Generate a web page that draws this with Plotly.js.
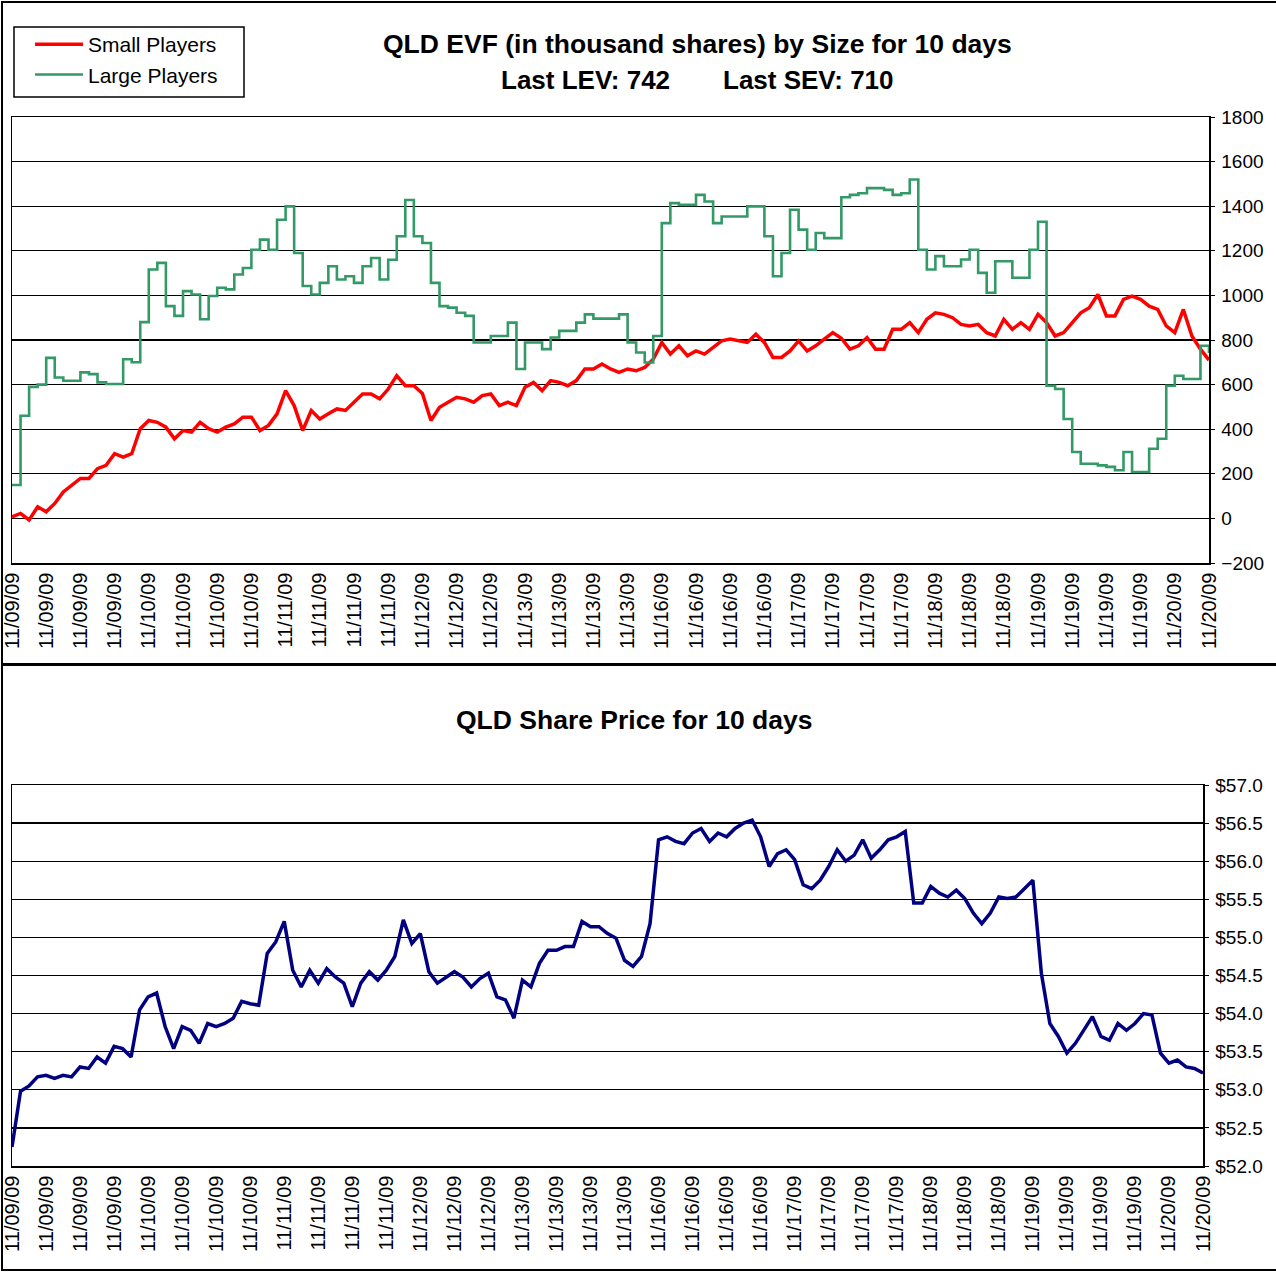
<!DOCTYPE html>
<html>
<head>
<meta charset="utf-8">
<script src="https://cdn.plot.ly/plotly-3.0.1.min.js"></script>
<style>
html,body{margin:0;padding:0;background:#fff;}
#chart{width:1276px;height:1272px;}
</style>
</head>
<body>
<div id="chart"></div>
<script>
// ---- data (sampled every quarter of a tick interval) ----
const tickLabels = [
  "11/09/09","11/09/09","11/09/09","11/09/09",
  "11/10/09","11/10/09","11/10/09","11/10/09",
  "11/11/09","11/11/09","11/11/09","11/11/09",
  "11/12/09","11/12/09","11/12/09",
  "11/13/09","11/13/09","11/13/09","11/13/09",
  "11/16/09","11/16/09","11/16/09","11/16/09",
  "11/17/09","11/17/09","11/17/09","11/17/09",
  "11/18/09","11/18/09","11/18/09",
  "11/19/09","11/19/09","11/19/09","11/19/09",
  "11/20/09","11/20/09"
];

const smallPlayers = [
  7,22,-7,52,30,67,119,149,179,179,223,238,290,275,290,402,
  439,431,409,357,394,387,431,402,387,409,424,454,454,394,417,469,
  573,506,394,484,446,469,491,484,521,558,558,536,580,640,595,595,
  560,439,498,521,543,536,521,551,558,506,521,506,588,610,573,618,
  610,595,618,670,670,692,670,655,670,662,677,714,789,737,774,729,
  751,737,766,796,804,796,789,826,789,722,722,751,796,751,774,804,
  833,808,759,774,811,759,759,848,848,878,833,893,922,915,900,870,
  863,870,833,818,893,848,878,848,915,878,818,833,878,922,945,1004,
  908,908,982,997,982,952,937,863,833,937,818,759,710
];

const largePlayers = [
  150,460,590,600,720,632,617,617,655,647,610,603,603,714,700,880,
  1116,1146,952,908,1019,1004,893,997,1034,1027,1094,1123,1205,1250,1205,1339,
  1399,1190,1042,1004,1056,1131,1071,1086,1056,1131,1168,1071,1160,1265,1428,1265,
  1235,1056,952,945,922,908,789,789,818,818,878,670,789,789,759,811,
  841,841,878,915,896,896,896,915,789,744,699,818,1324,1414,1406,1406,
  1451,1421,1324,1354,1354,1354,1399,1399,1265,1086,1190,1384,1295,1205,1280,1257,
  1257,1440,1451,1458,1481,1481,1473,1451,1458,1520,1205,1116,1176,1131,1131,1161,
  1205,1101,1012,1153,1153,1079,1079,1205,1330,595,580,446,298,245,245,238,
  231,216,298,208,208,312,357,595,640,625,625,774,742
];

const sharePrice = [
  52.25,52.98,53.05,53.17,53.19,53.15,53.19,53.17,53.30,53.28,53.43,53.35,53.57,53.54,53.43,54.05,
  54.22,54.27,53.83,53.54,53.83,53.78,53.61,53.87,53.83,53.87,53.94,54.16,54.13,54.11,54.79,54.94,
  55.21,54.57,54.35,54.57,54.40,54.59,54.48,54.40,54.09,54.40,54.55,54.44,54.57,54.75,55.23,54.92,
  55.05,54.55,54.40,54.48,54.55,54.48,54.35,54.46,54.53,54.22,54.18,53.94,54.44,54.35,54.66,54.83,
  54.83,54.88,54.88,55.21,55.14,55.14,55.05,54.99,54.70,54.62,54.75,55.18,56.28,56.32,56.26,56.23,
  56.37,56.43,56.26,56.37,56.32,56.43,56.50,56.54,56.32,55.93,56.10,56.15,56.02,55.69,55.64,55.75,
  55.93,56.15,56.00,56.08,56.28,56.04,56.15,56.28,56.32,56.39,55.45,55.45,55.67,55.58,55.53,55.62,
  55.51,55.32,55.18,55.32,55.53,55.51,55.53,55.64,55.75,54.53,53.87,53.70,53.48,53.61,53.78,53.96,
  53.70,53.65,53.87,53.78,53.87,54.00,53.98,53.48,53.35,53.39,53.30,53.28,53.22
];

const lastLEV = 742;
const lastSEV = 710;

// ---- layout helpers ----
const W = 1276, H = 1272;
const px = v => v / W;
const py = v => 1 - v / H;
const sampleStep = 0.25;
const idx = arr => arr.map((_, i) => i * sampleStep);
const tickPos = tickLabels.map((_, i) => i);

const FONT = "Arial, 'Liberation Sans', sans-serif";

const traces = [
  {x: idx(smallPlayers), y: smallPlayers, type: 'scatter', mode: 'lines',
   name: 'Small Players', line: {color: '#FF0000', width: 3.5}, xaxis: 'x', yaxis: 'y'},
  {x: idx(largePlayers), y: largePlayers, type: 'scatter', mode: 'lines',
   name: 'Large Players', line: {color: '#339966', width: 2.6, shape: 'hv'}, xaxis: 'x', yaxis: 'y'},
  {x: idx(sharePrice), y: sharePrice, type: 'scatter', mode: 'lines',
   name: 'QLD Share Price', showlegend: false, line: {color: '#000080', width: 3.5}, xaxis: 'x2', yaxis: 'y2'}
];

const xaxisCommon = {
  range: [0, 35], tickmode: 'array', tickvals: tickPos, ticktext: tickLabels,
  tickangle: -90, tickfont: {family: FONT, size: 20, color: '#000'},
  showgrid: false, zeroline: false, showline: true, mirror: true,
  linecolor: '#000', linewidth: 1.5, ticks: '', fixedrange: true
};
const yaxisCommon = {
  side: 'right', showgrid: true, gridcolor: '#000', gridwidth: 1.2,
  zeroline: false, showline: true, mirror: true, linecolor: '#000', linewidth: 1.5,
  ticks: 'outside', ticklen: 4, tickcolor: '#000', ticklabelstandoff: 3,
  tickfont: {family: FONT, size: 19, color: '#000'}, fixedrange: true
};

const layout = {
  width: W, height: H,
  margin: {l: 0, r: 0, t: 0, b: 0},
  paper_bgcolor: '#fff', plot_bgcolor: '#fff',
  font: {family: FONT, color: '#000'},
  showlegend: true,
  legend: {x: px(30), y: py(24), xanchor: 'left', yanchor: 'top',
           font: {family: FONT, size: 21, color: '#000'},
           bgcolor: 'rgba(0,0,0,0)', borderwidth: 0, itemwidth: 48, tracegroupgap: 0},
  xaxis: Object.assign({}, xaxisCommon, {domain: [px(12), px(1209)], anchor: 'y'}),
  yaxis: Object.assign({}, yaxisCommon, {domain: [py(563), py(117)], range: [-200, 1800], dtick: 200, anchor: 'x'}),
  xaxis2: Object.assign({}, xaxisCommon, {domain: [px(12), px(1203)], anchor: 'y2'}),
  yaxis2: Object.assign({}, yaxisCommon, {domain: [py(1166), py(785)], range: [52, 57], dtick: 0.5,
           tickformat: '$.1f', anchor: 'x2'}),
  annotations: [
    {text: '<b>QLD EVF (in thousand shares) by Size for 10 days</b>', xref: 'paper', yref: 'paper',
     x: px(697), y: py(44), xanchor: 'center', yanchor: 'middle', showarrow: false,
     font: {family: FONT, size: 26.5, color: '#000'}},
    {text: '<b>Last LEV: ' + lastLEV + '</b>', xref: 'paper', yref: 'paper',
     x: px(585), y: py(80), xanchor: 'center', yanchor: 'middle', showarrow: false,
     font: {family: FONT, size: 26, color: '#000'}},
    {text: '<b>Last SEV: ' + lastSEV + '</b>', xref: 'paper', yref: 'paper',
     x: px(809), y: py(80), xanchor: 'center', yanchor: 'middle', showarrow: false,
     font: {family: FONT, size: 26, color: '#000'}},
    {text: '<b>QLD Share Price for 10 days</b>', xref: 'paper', yref: 'paper',
     x: px(634), y: py(720), xanchor: 'center', yanchor: 'middle', showarrow: false,
     font: {family: FONT, size: 26.5, color: '#000'}}
  ],
  shapes: [
    // outer frames of the two charts
    {type: 'rect', xref: 'paper', yref: 'paper', x0: px(2), x1: px(1290), y0: py(664), y1: py(2),
     line: {color: '#000', width: 2}, fillcolor: 'rgba(0,0,0,0)', layer: 'below'},
    {type: 'rect', xref: 'paper', yref: 'paper', x0: px(2), x1: px(1290), y0: py(1270), y1: py(665),
     line: {color: '#000', width: 2}, fillcolor: 'rgba(0,0,0,0)', layer: 'below'},
    // legend box
    {type: 'rect', xref: 'paper', yref: 'paper', x0: px(14), x1: px(244), y0: py(97), y1: py(27),
     line: {color: '#000', width: 1.5}, fillcolor: 'rgba(0,0,0,0)'}
  ]
};

Plotly.newPlot('chart', traces, layout, {staticPlot: true, displayModeBar: false});
</script>
</body>
</html>
